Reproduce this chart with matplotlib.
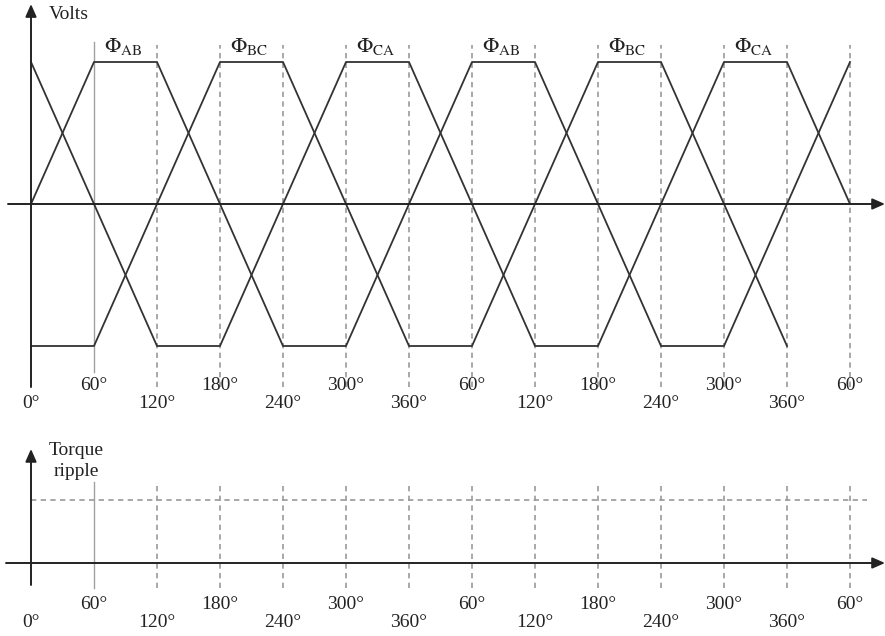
import matplotlib
matplotlib.use("Agg")
import matplotlib.pyplot as plt

plt.rcParams['font.family'] = ['Liberation Serif', 'DejaVu Serif']
plt.rcParams['mathtext.fontset'] = 'stix'

# Trapezoidal back-EMF waveforms (breakpoints: electrical degrees, normalised volts)
phase_a_deg = [0, 120, 180, 300, 360, 480, 540, 660, 720, 780]
phase_a_val = [1, -1, -1, 1, 1, -1, -1, 1, 1, 0]
phase_b_deg = [0, 60, 120, 240, 300, 420, 480, 600, 660, 780]
phase_b_val = [0, 1, 1, -1, -1, 1, 1, -1, -1, 1]
phase_c_deg = [0, 60, 180, 240, 360, 420, 540, 600, 720]
phase_c_val = [-1, -1, 1, 1, -1, -1, 1, 1, -1]

# Conducting-pair labels over each flat top
flux_labels = ['AB', 'BC', 'CA', 'AB', 'BC', 'CA']
flux_centres = [88, 208, 328, 448, 568, 688]

# Angle ticks along the axis
tick_deg = [0, 60, 120, 180, 240, 300, 360, 420, 480, 540, 600, 660, 720, 780]
tick_labels = ['0°', '60°', '120°', '180°', '240°', '300°', '360°',
               '60°', '120°', '180°', '240°', '300°', '360°', '60°']

# Torque ripple reference level
torque_level = 1.0

W, H = 885, 636
fig = plt.figure(figsize=(W / 100, H / 100), dpi=100)
ax1 = fig.add_axes([0, 236 / H, 1, 400 / H])
ax2 = fig.add_axes([0, 0, 1, 236 / H])

xmin, xmax = -31 / 1.05, (W - 31) / 1.05
ax1.set_xlim(xmin, xmax)
ax2.set_xlim(xmin, xmax)
ax1.set_ylim(-196 / 142, 204 / 142)
ax2.set_ylim(-73 / 63, 163 / 63)
for ax in (ax1, ax2):
    ax.axis('off')

ink = '#222222'
curve = '#333333'
grid = '#9a9a9a'
dash = (0, (3.2, 2.6))
fs = 14


def arrow(ax, start, tip):
    ax.annotate('', xy=tip, xytext=start,
                arrowprops=dict(arrowstyle='-|>,head_length=0.5,head_width=0.22',
                                lw=1.4, color=ink, mutation_scale=15,
                                shrinkA=0, shrinkB=0))


# ---- Top panel: phase voltages ----
for v in tick_deg[2:]:
    ax1.plot([v, v], [-1.289, 1.12], color=grid, lw=1.2, ls=dash, zorder=1)
ax1.plot([60, 60], [-1.183, 1.141], color='#a0a0a0', lw=1.0, zorder=1)

for xs, ys in ((phase_a_deg, phase_a_val), (phase_b_deg, phase_b_val),
               (phase_c_deg, phase_c_val)):
    ax1.plot(xs, ys, color=curve, lw=1.3, zorder=3)

arrow(ax1, (0, -1.289), (0, 1.408))
arrow(ax1, (-21.9, 0), (xmax, 0))
ax1.text(16.8, 1.331, 'Volts', fontsize=fs, ha='left', va='center', color=ink)

for c, lab in zip(flux_centres, flux_labels):
    ax1.text(c, 1.106, r'$\Phi_{\mathrm{%s}}$' % lab, fontsize=fs + 1.5,
             ha='center', va='center', color=ink)

for i, (t, lab) in enumerate(zip(tick_deg, tick_labels)):
    y = -1.275 if i % 2 else -1.408
    ax1.text(t, y, lab, fontsize=fs, ha='center', va='center', color=ink)

# ---- Bottom panel: torque ripple ----
for v in tick_deg[2:]:
    ax2.plot([v, v], [-0.397, 1.286], color=grid, lw=1.2, ls=dash, zorder=1)
ax2.plot([60, 60], [-0.397, 1.286], color='#a0a0a0', lw=1.0, zorder=1)
ax2.plot([0, 796], [torque_level, torque_level], color=grid, lw=1.2, ls=dash,
         zorder=1)

arrow(ax2, (0, -0.349), (0, 1.81))
arrow(ax2, (-23.8, 0), (xmax, 0))
ax2.text(42.9, 1.62, 'Torque\nripple', fontsize=fs, ha='center', va='center',
         color=ink, linespacing=1.25)

for i, (t, lab) in enumerate(zip(tick_deg, tick_labels)):
    y = -0.651 if i % 2 else -0.952
    ax2.text(t, y, lab, fontsize=fs, ha='center', va='center', color=ink)

fig.savefig('out.png', dpi=100)
